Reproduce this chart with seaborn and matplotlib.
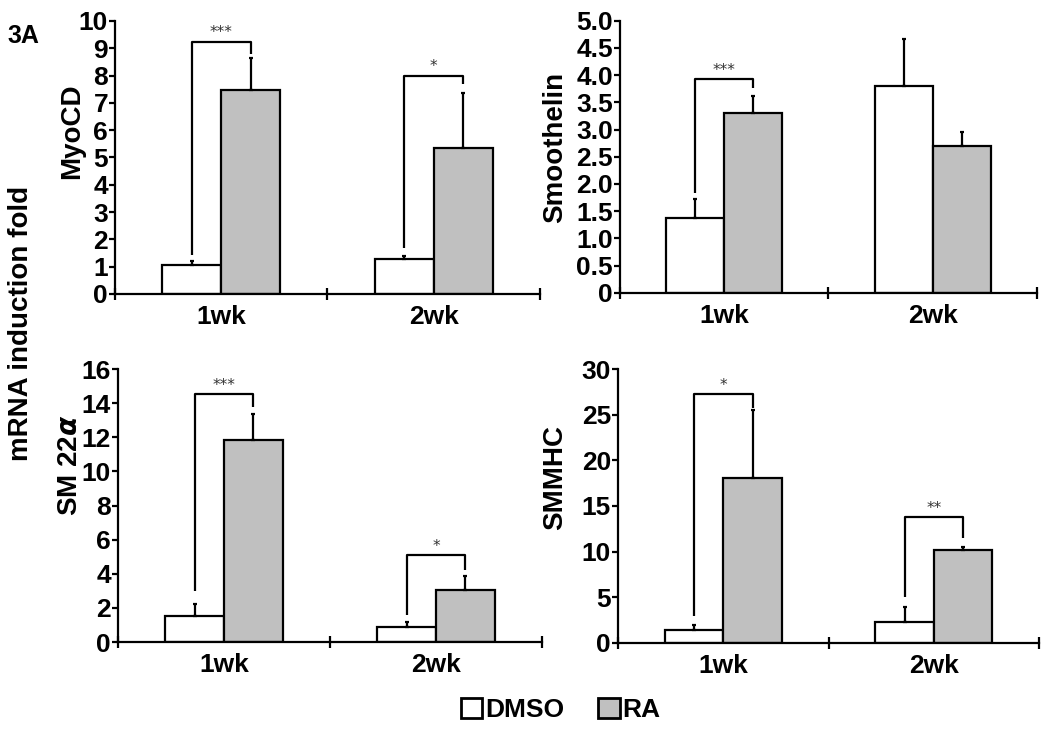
import numpy as np
import pandas as pd
import matplotlib.pyplot as plt
import seaborn as sns

WEEKS = ["1wk", "2wk"]
GROUPS = ["DMSO", "RA"]
COLORS = {"DMSO": "white", "RA": "#c0c0c0"}

# mean fold and upper error (SEM) per gene, order = WEEKS
myocd_dmso, myocd_dmso_err = [1.07, 1.29], [0.13, 0.11]
myocd_ra, myocd_ra_err = [7.46, 5.34], [1.17, 2.01]
smooth_dmso, smooth_dmso_err = [1.38, 3.80], [0.35, 0.86]
smooth_ra, smooth_ra_err = [3.30, 2.70], [0.31, 0.25]
sm22_dmso, sm22_dmso_err = [1.54, 0.90], [0.69, 0.29]
sm22_ra, sm22_ra_err = [11.84, 3.03], [1.52, 0.84]
smmhc_dmso, smmhc_dmso_err = [1.36, 2.27], [0.55, 1.68]
smmhc_ra, smmhc_ra_err = [18.1, 10.14], [7.4, 0.36]

# significance brackets: (week index, left leg bottom, bracket top, right leg bottom, stars)
myocd_sig = [(0, 1.43, 9.24, 8.8, "***"), (1, 1.68, 8.0, 7.7, "*")]
smooth_sig = [(0, 1.84, 3.93, 3.76, "***")]
sm22_sig = [(0, 2.99, 14.52, 13.8, "***"), (1, 1.58, 5.08, 4.22, "*")]
smmhc_sig = [(0, 2.96, 27.3, 25.7, "*"), (1, 4.98, 13.76, 11.45, "**")]

PANELS = [
    # name, dmso, dmso_err, ra, ra_err, sig, ymax, yticks, ticklabels, axes rect, ylabel coords
    ("MyoCD", myocd_dmso, myocd_dmso_err, myocd_ra, myocd_ra_err, myocd_sig,
     10, list(range(0, 11)), [str(i) for i in range(0, 11)],
     [0.1095, 0.5973, 0.4048, 0.374], (-0.101, 0.595)),
    ("Smoothelin", smooth_dmso, smooth_dmso_err, smooth_ra, smooth_ra_err, smooth_sig,
     5, list(np.arange(0, 5.01, 0.5)), ["0"] + [f"{v:.1f}" for v in np.arange(0.5, 5.01, 0.5)],
     [0.5905, 0.599, 0.397, 0.3726], (-0.156, 0.536)),
    (r"SM 22$\alpha$", sm22_dmso, sm22_dmso_err, sm22_ra, sm22_ra_err, sm22_sig,
     16, list(range(0, 17, 2)), [str(i) for i in range(0, 17, 2)],
     [0.1124, 0.1205, 0.4038, 0.374], (-0.113, 0.648)),
    ("SMMHC", smmhc_dmso, smmhc_dmso_err, smmhc_ra, smmhc_ra_err, smmhc_sig,
     30, list(range(0, 31, 5)), [str(i) for i in range(0, 31, 5)],
     [0.5886, 0.1196, 0.401, 0.3745], (-0.150, 0.606)),
]

sns.set_style("ticks")
plt.rcParams["font.family"] = ["Liberation Sans", "DejaVu Sans"]
plt.rcParams["font.weight"] = "bold"
plt.rcParams["mathtext.default"] = "it"
for key in ["text.color", "axes.labelcolor", "xtick.color", "ytick.color", "axes.edgecolor"]:
    plt.rcParams[key] = "black"

fig = plt.figure(figsize=(10.5, 7.3), dpi=100)

LW = 1.6

for name, dmso, dmso_err, ra, ra_err, sig, ymax, yt, ytl, rect, lab_xy in PANELS:
    ax = fig.add_axes(rect)
    d = pd.DataFrame({
        "week": WEEKS * 2,
        "group": ["DMSO"] * 2 + ["RA"] * 2,
        "fold": dmso + ra,
        "err": dmso_err + ra_err,
    })
    sns.barplot(data=d, x="week", y="fold", hue="group", order=WEEKS, hue_order=GROUPS,
                palette=COLORS, saturation=1, edgecolor="black", linewidth=LW,
                width=0.556, errorbar=None, legend=False, ax=ax)

    centers = {}
    for h, grp in enumerate(GROUPS):
        bars = ax.containers[h].patches
        xs = [b.get_x() + b.get_width() / 2 for b in bars]
        centers[grp] = xs
        sub = d[d["group"] == grp]
        ax.errorbar(xs, sub["fold"].values,
                    yerr=[np.zeros(len(xs)), sub["err"].values],
                    fmt="none", ecolor="black", elinewidth=LW, capsize=1.5, capthick=LW,
                    zorder=1)

    for wi, lo, top, hi, stars in sig:
        x0, x1 = centers["DMSO"][wi], centers["RA"][wi]
        ax.plot([x0, x0, x1, x1], [lo, top, top, hi], color="black", lw=LW,
                solid_capstyle="butt", zorder=4)
        ax.annotate(stars, xy=((x0 + x1) / 2, top), xytext=(0, 1),
                    textcoords="offset points", ha="center", va="bottom",
                    fontsize=11, fontweight="normal", color="#333333",
                    family="DejaVu Sans")

    ax.set_xlim(-0.5, 1.5)
    ax.set_ylim(0, ymax)
    ax.set_yticks(yt)
    ax.set_yticklabels(ytl)
    ax.set_xticks([0, 1])
    ax.set_xticklabels(WEEKS)
    ax.set_xticks([-0.5, 0.5, 1.5], minor=True)
    ax.tick_params(axis="x", which="major", length=0, pad=8, labelsize=19)
    ax.tick_params(axis="x", which="minor", length=8, width=LW, direction="inout")
    ax.tick_params(axis="y", length=4, width=LW, direction="out", pad=1, labelsize=19)
    for lab in ax.get_xticklabels() + ax.get_yticklabels():
        lab.set_fontweight("bold")
    sns.despine(ax=ax)
    for s in ["left", "bottom"]:
        ax.spines[s].set_linewidth(LW)
    ax.set_xlabel("")
    ax.set_ylabel(name, fontsize=20, fontweight="bold", va="center")
    ax.yaxis.set_label_coords(*lab_xy)

fig.text(0.02, 0.5575, "mRNA induction fold", rotation=90, ha="center", va="center",
         fontsize=20, fontweight="bold")
fig.text(0.007, 0.951, "3A", ha="left", va="center", fontsize=18, fontweight="bold")

handles = [plt.Rectangle((0, 0), 1, 1, facecolor=COLORS[g], edgecolor="black", lw=2)
           for g in GROUPS]
fig.legend(handles, GROUPS, loc="center", bbox_to_anchor=(0.534, 0.027), ncol=2,
           frameon=False, handlelength=0.8, handleheight=0.8, handletextpad=0.1,
           columnspacing=1.3, prop={"size": 19, "weight": "bold"})

fig.savefig("out.png", dpi=100)
